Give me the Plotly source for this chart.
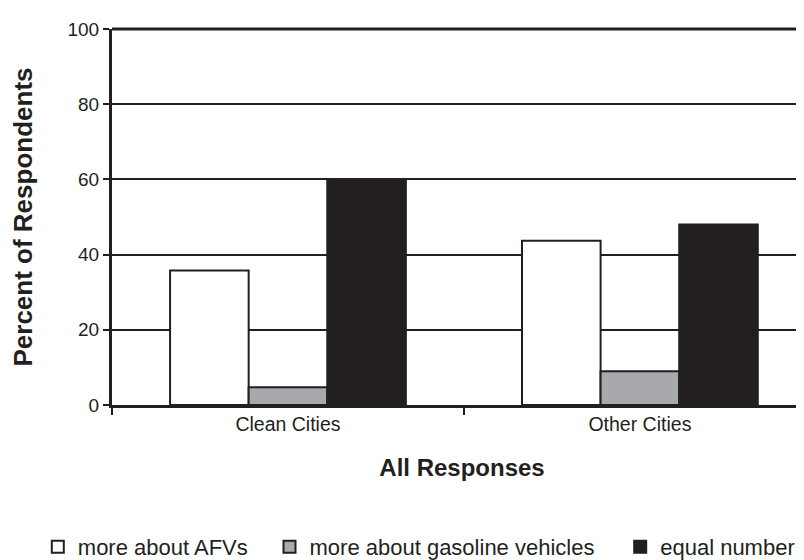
import plotly.graph_objects as go

categories = ["Clean Cities", "Other Cities"]
series_names = ["more about AFVs", "more about gasoline vehicles", "equal number"]
afvs = [35.8, 43.7]
gasoline = [4.7, 9.0]
equal = [59.8, 48.0]
y_ticks = [0, 20, 40, 60, 80, 100]

fills = ["#ffffff", "#a7a9ac", "#231f20"]
values = [afvs, gasoline, equal]
legend_ids = ["legend", "legend2", "legend3"]
legend_x = [-0.106, 0.225, 0.726]

fig = go.Figure()
for name, vals, col, lid in zip(series_names, values, fills, legend_ids):
    fig.add_trace(go.Bar(
        x=categories, y=vals, name=name, legend=lid,
        marker=dict(color=col, line=dict(color="#231f20", width=2)),
    ))

font_family = "Liberation Sans, Arial, sans-serif"
legend_common = dict(orientation="h", y=-0.378, yanchor="middle", xanchor="left",
                     font=dict(size=22, color="#231f20"), itemwidth=30,
                     bgcolor="rgba(0,0,0,0)", borderwidth=0)
layout_legends = {}
for lid, lx in zip(legend_ids, legend_x):
    layout_legends[lid] = dict(legend_common, x=lx)

fig.update_layout(
    width=804, height=560,
    margin=dict(l=104, r=0, t=21, b=159),
    paper_bgcolor="white", plot_bgcolor="white",
    barmode="group", bargap=0.33, bargroupgap=0,
    font=dict(family=font_family, size=19, color="#231f20"),
    showlegend=True,
    xaxis=dict(range=[-0.5, 1.489], showgrid=False, showline=True, linecolor="#231f20",
               linewidth=3, ticks="outside", tickson="boundaries", ticklen=7, tickwidth=2,
               tickcolor="#231f20", tickfont=dict(size=19.5), automargin=False,
               title=dict(text="<b>All Responses</b>", font=dict(size=24), standoff=25)),
    yaxis=dict(range=[0, 100], tickvals=y_ticks, showgrid=True, gridcolor="#231f20",
               gridwidth=1.5, showline=True, linecolor="#231f20", linewidth=3,
               ticks="outside", ticklen=6, tickwidth=2, tickcolor="#231f20",
               tickfont=dict(size=19), zeroline=False, automargin=False,
               title=dict(text="<b>Percent of Respondents</b>", font=dict(size=26), standoff=50)),
    shapes=[dict(type="line", xref="paper", yref="paper", x0=0, x1=1, y0=1, y1=1,
                 line=dict(color="#231f20", width=3))],
    **layout_legends,
)

fig.write_html("out.html")
